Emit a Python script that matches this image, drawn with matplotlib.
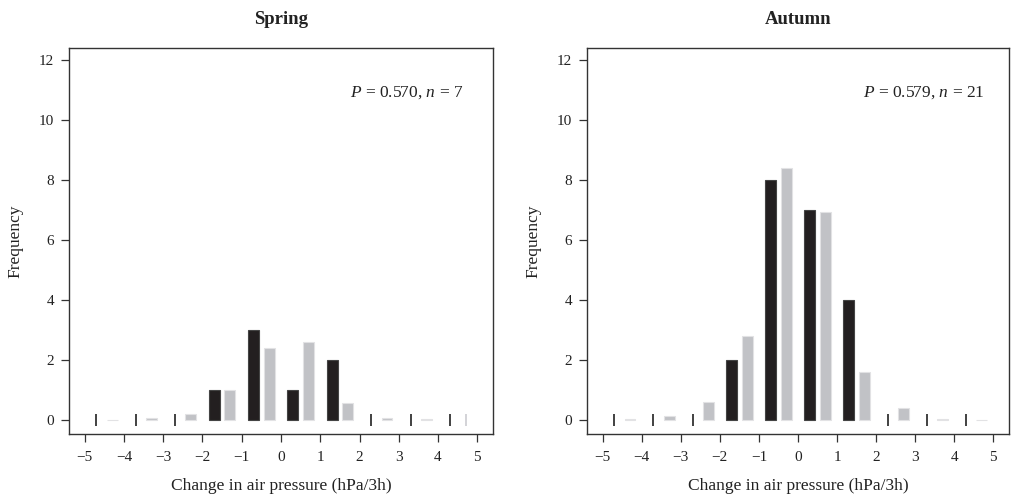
import matplotlib
matplotlib.use("Agg")
import matplotlib.pyplot as plt
import numpy as np

plt.rcParams['font.family'] = ['Liberation Serif', 'DejaVu Serif']
plt.rcParams['mathtext.fontset'] = 'custom'
plt.rcParams['mathtext.rm'] = 'Liberation Serif'
plt.rcParams['mathtext.it'] = 'Liberation Serif:italic'

bin_left = [-5, -4, -3, -2, -1, 0, 1, 2, 3, 4]
x_ticks = [-5, -4, -3, -2, -1, 0, 1, 2, 3, 4, 5]
y_ticks = [0, 2, 4, 6, 8, 10, 12]

spring_obs = [0, 0, 0, 1, 3, 1, 2, 0, 0, 0]
spring_exp = [0.01, 0.05, 0.19, 1.0, 2.41, 2.61, 0.58, 0.05, 0.03, 0.0]
autumn_obs = [0, 0, 0, 2, 8, 7, 4, 0, 0, 0]
autumn_exp = [0.02, 0.12, 0.59, 2.8, 8.4, 6.93, 1.59, 0.39, 0.02, 0.01]

panels = [
    ("Spring", spring_obs, spring_exp, r"$P$ = 0.570, $n$ = 7"),
    ("Autumn", autumn_obs, autumn_exp, r"$P$ = 0.579, $n$ = 21"),
]

W, H = 1015, 498
fig = plt.figure(figsize=(W / 100, H / 100), dpi=100)

ax_boxes = [(69, 48, 493, 434), (587, 48, 1009, 434)]

black = "#231f20"
grey = "#c1c2c6"

for (title, obs, exp, note), (x0, y0, x1, y1) in zip(panels, ax_boxes):
    ax = fig.add_axes([x0 / W, 1 - y1 / H, (x1 - x0) / W, (y1 - y0) / H])
    left = np.array(bin_left, dtype=float)
    obs = np.array(obs, dtype=float)
    exp = np.array(exp, dtype=float)
    xo = left + 0.3
    xe = left + 0.7
    m = obs > 0
    ax.bar(xo[m], obs[m], width=0.28, color=black, edgecolor="#444444", linewidth=0.8, zorder=3)
    ax.vlines(xo[~m], -0.2, 0.2, color="#333333", linewidth=1.3, zorder=3)
    me = exp > 0
    ax.bar(xe[me], exp[me], width=0.28, color=grey, edgecolor="#e2e2e4", linewidth=0.8, zorder=3)
    ax.vlines(xe[~me], -0.2, 0.2, color="#d0d0d4", linewidth=1.3, zorder=3)

    ax.set_xlim(-5.4, 5.4)
    ax.set_ylim(-0.47, 12.4)
    ax.set_xticks(x_ticks)
    ax.set_xticklabels([str(t).replace('-', '\u2212') for t in x_ticks])
    ax.set_yticks(y_ticks)
    ax.set_yticklabels([str(t) for t in y_ticks])
    ax.tick_params(direction='out', length=5.5, width=0.9, color="#333333",
                   labelsize=11, labelcolor="#222222")
    ax.tick_params(axis='x', pad=7)
    ax.tick_params(axis='y', pad=5)
    for s in ax.spines.values():
        s.set_color("#333333")
        s.set_linewidth(1.0)
    ax.set_title(title, fontsize=13.5, fontweight='bold', color="#222222", pad=17)
    ax.set_xlabel("Change in air pressure (hPa/3h)", fontsize=12.5, color="#222222", labelpad=10)
    ax.set_ylabel("Frequency", fontsize=12.5, color="#222222", labelpad=11)
    ax.text(0.797, 0.885, note, transform=ax.transAxes, ha='center', va='center',
            fontsize=12.5, color="#222222")

fig.savefig("out.png", dpi=100)
